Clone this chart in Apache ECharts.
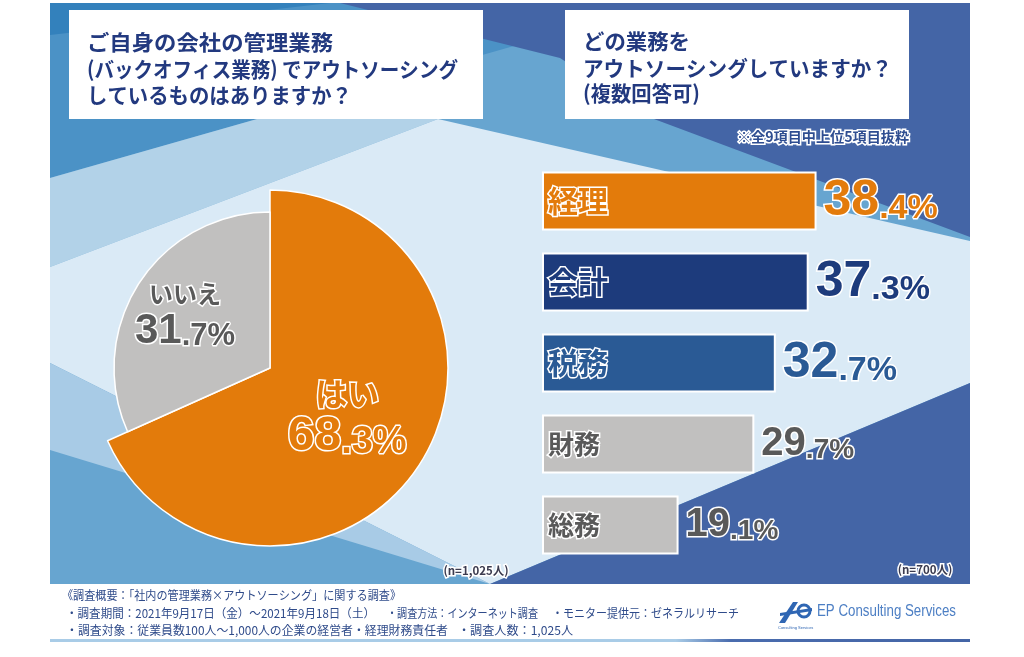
<!DOCTYPE html>
<html><head><meta charset="utf-8">
<script src="https://cdn.jsdelivr.net/npm/echarts@6/dist/echarts.min.js"></script>
<style>html,body{margin:0;padding:0;background:#fff;}#c{width:1024px;height:657px;}</style>
</head><body><div id="c"></div>
<script>
// ---------- data ----------
const pieNames = ['はい', 'いいえ'];
const pieValues = [68.3, 31.7];
const barCategories = ['経理', '会計', '税務', '財務', '総務'];
const barValues = [38.4, 37.3, 32.7, 29.7, 19.1];
const leftTitleLines = ['ご自身の会社の管理業務', '(バックオフィス業務) でアウトソーシング', 'しているものはありますか？'];
const rightTitleLines = ['どの業務を', 'アウトソーシングしていますか？', '(複数回答可)'];
const noteText = '※全9項目中上位5項目抜粋';
const nLeft = '(n=1,025人)';
const nRight = '(n=700人)';
const footerLine1 = ['《調査概要：「社内の管理業務×アウトソーシング」に関する調査》'];
const footerLine2 = ['・調査期間：2021年9月17日（金）～2021年9月18日（土）', '・調査方法：インターネット調査', '・モニター提供元：ゼネラルリサーチ'];
const footerLine3 = ['・調査対象：従業員数100人～1,000人の企業の経営者・経理財務責任者', '・調査人数：1,025人'];
const logoText = 'EP Consulting Services';

// ---------- styles ----------
const JP = '"Noto Sans CJK JP", sans-serif';
const NUM = '"Liberation Sans", Arial, sans-serif';
const ORANGE = '#E37B0B', NAVY = '#1D3B7C', BLUE = '#2A5A95', GRAY = '#C1C0BF', DARKTXT = '#595959';
const pieColors = [ORANGE, GRAY];
const pieTextColors = [ORANGE, DARKTXT];
const barColors = [ORANGE, NAVY, BLUE, GRAY, GRAY];
const barTextColors = [ORANGE, NAVY, BLUE, DARKTXT, DARKTXT];
const bigSizes = [50, 50, 50, 40, 40];
const smallSizes = [34, 34, 34, 28, 28];
const nameSizes = [30, 30, 30, 26, 26];
const TITLE = '#22397f';

function splitNum(v) { const s = v.toFixed(1).split('.'); return [s[0], '.' + s[1] + '%']; }

const mctx = document.createElement('canvas').getContext('2d');
function measure(text, font) { mctx.font = font; return mctx.measureText(text).width; }

const chart = echarts.init(document.getElementById('c'), null, { renderer: 'canvas' });

const nameRich = {}, valRich = {};
barCategories.forEach((c, i) => {
  nameRich['n' + i] = { fontFamily: JP, fontWeight: 'bold', fontSize: nameSizes[i], color: barTextColors[i], textBorderColor: '#fff', textBorderWidth: 3 };
  valRich['b' + i] = { fontFamily: NUM, fontWeight: 'bold', fontSize: bigSizes[i], lineHeight: bigSizes[i], color: barTextColors[i], textBorderColor: '#fff', textBorderWidth: 3, verticalAlign: 'bottom' };
  valRich['s' + i] = { fontFamily: NUM, fontWeight: 'bold', fontSize: smallSizes[i], lineHeight: smallSizes[i] + 4, color: barTextColors[i], textBorderColor: '#fff', textBorderWidth: 3, verticalAlign: 'bottom' };
});

const pieRich = {};
[[32, 38, 48, 38], [24, 32, 42, 31]].forEach((sz, i) => {
  pieRich['a' + i] = { fontFamily: JP, fontWeight: 'bold', fontSize: sz[0], lineHeight: sz[1], color: pieTextColors[i], textBorderColor: '#fff', textBorderWidth: 3, align: 'center' };
  pieRich['b' + i] = { fontFamily: NUM, fontWeight: 'bold', fontSize: sz[2], lineHeight: sz[2], color: pieTextColors[i], textBorderColor: '#fff', textBorderWidth: 3, verticalAlign: 'bottom' };
  pieRich['c' + i] = { fontFamily: NUM, fontWeight: 'bold', fontSize: sz[3], lineHeight: sz[3] + 4, color: pieTextColors[i], textBorderColor: '#fff', textBorderWidth: 3, verticalAlign: 'bottom' };
});
function pieLabel(p) {
  const i = p.dataIndex; const [a, b] = splitNum(p.value);
  return '{a' + i + '|' + p.name + '}\n{b' + i + '|' + a + '}{c' + i + '|' + b + '}';
}
function pieData(visibleIndex) {
  return pieNames.map((n, i) => ({
    name: n, value: pieValues[i],
    itemStyle: i === visibleIndex ? { color: pieColors[i], borderColor: '#fff', borderWidth: 1.5 } : { color: 'rgba(0,0,0,0)', borderWidth: 0 },
    label: { show: i === visibleIndex }
  }));
}

// ---------- background graphics ----------
const bg = [
  { type: 'rect', shape: { x: 50, y: 3, width: 920, height: 581 }, style: { fill: '#67A5D0' } },
  { type: 'polygon', shape: { points: [[50, 3], [665, 3], [50, 178]] }, style: { fill: '#4B92C6' } },
  { type: 'polygon', shape: { points: [[50, 3], [330, 3], [50, 35]] }, style: { fill: '#3381BC' } },
  { type: 'polygon', shape: { points: [[340, 3], [970, 3], [970, 237], [654, 119], [560, 58]] }, style: { fill: '#4465A6' } },
  { type: 'polygon', shape: { points: [[50, 178], [257, 119], [438, 119], [50, 267]] }, style: { fill: '#B2D2E8' } },
  { type: 'polygon', shape: { points: [[50, 267], [438, 119], [970, 241], [970, 383], [490, 584], [50, 363]] }, style: { fill: '#DAEAF6' } },
  { type: 'polygon', shape: { points: [[50, 363], [490, 584], [50, 450]] }, style: { fill: '#A8CBE6' } },
  { type: 'polygon', shape: { points: [[490, 584], [970, 383], [970, 584]] }, style: { fill: '#4465A6' } },
  { type: 'rect', shape: { x: 69, y: 10, width: 414, height: 109 }, style: { fill: '#fff' } },
  { type: 'rect', shape: { x: 565, y: 10, width: 344, height: 109 }, style: { fill: '#fff' } },
  { type: 'rect', shape: { x: 50, y: 639, width: 920, height: 3 }, style: { fill: new echarts.graphic.LinearGradient(0, 0, 1, 0, [{ offset: 0, color: '#A9CCE7' }, { offset: 0.68, color: '#A9CCE7' }, { offset: 0.74, color: '#4A6CAE' }, { offset: 1, color: '#4465A6' }]) } }
].map(e => Object.assign(e, { silent: true, z: 0 }));

// text helper; if endX given, text is horizontally scaled to end there
function txt(text, x, y, size, color, opts) {
  opts = opts || {};
  const font = (opts.weight || 'bold') + ' ' + size + 'px ' + (opts.family || JP);
  let sx = 1;
  if (opts.endX) { const w = measure(text, font); if (w > 0) sx = (opts.endX - x) / w; }
  return {
    type: 'text', x: x, y: y, scaleX: sx, silent: true, z: opts.z || 1,
    style: Object.assign({
      text: text, fill: color, font: font,
      textAlign: opts.align || 'left', textVerticalAlign: 'middle',
      align: opts.align || 'left', verticalAlign: 'middle'
    }, opts.stroke ? { stroke: opts.stroke, lineWidth: opts.lineWidth || 3 } : {})
  };
}

const leftYs = [42, 69, 95], leftEnds = [333, 458, 352];
const rightYs = [41, 68, 93], rightEnds = [690, 892, 700];
const texts = [];
leftTitleLines.forEach((t, i) => texts.push(txt(t, 87, leftYs[i], 21, TITLE, { endX: leftEnds[i] })));
rightTitleLines.forEach((t, i) => texts.push(txt(t, 583, rightYs[i], 21, TITLE, { endX: rightEnds[i] })));
texts.push(txt(noteText, 737, 137, 14, '#2E4D91', { stroke: '#fff', lineWidth: 3, endX: 909 }));
texts.push(txt(nLeft, 476, 571, 11.5, '#3b3b4f', { align: 'center', stroke: '#fff', lineWidth: 3, z: 5 }));
texts.push(txt(nRight, 925, 570, 11.5, '#3b3b4f', { align: 'center', stroke: '#fff', lineWidth: 3, z: 5 }));
const FOOT = '#2f4b8a';
const f1 = [[62, 401]], f2 = [[66, 375], [387, 538], [552, 739]], f3 = [[66, 448], [458, 573]];
footerLine1.forEach((t, i) => texts.push(txt(t, f1[i][0], 595, 12, FOOT, { weight: 'normal', endX: f1[i][1] })));
footerLine2.forEach((t, i) => texts.push(txt(t, f2[i][0], 613, 12, FOOT, { weight: 'normal', endX: f2[i][1] })));
footerLine3.forEach((t, i) => texts.push(txt(t, f3[i][0], 630, 12, FOOT, { weight: 'normal', endX: f3[i][1] })));
texts.push(txt(logoText, 817, 612, 16, '#4d7fc4', { weight: 'normal', family: NUM, endX: 956 }));
const logo = [
  { type: 'polygon', shape: { points: [[779, 623], [793, 602], [798, 602], [785, 623]] }, style: { fill: '#2f66b3' } },
  { type: 'circle', shape: { cx: 804, cy: 611, r: 6 }, style: { fill: 'none', stroke: '#2f66b3', lineWidth: 3 } },
  { type: 'polygon', shape: { points: [[780, 613], [812, 608], [812, 611], [780, 616]] }, style: { fill: '#2f66b3' } },
  txt('Consulting Services', 778, 628, 4, '#2f66b3', { weight: 'normal', family: NUM })
].map(e => Object.assign(e, { silent: true, z: 1 }));

const option = {
  animation: false,
  backgroundColor: '#fff',
  graphic: { elements: bg.concat(texts, logo) },
  grid: { left: 542, top: 160.5, width: 357.5, height: 405, containLabel: false },
  xAxis: { type: 'value', min: 0, max: 50, show: false },
  yAxis: { type: 'category', data: barCategories, inverse: true, show: false },
  series: [
    {
      type: 'pie', center: [270, 368], radius: [0, 178], startAngle: 90, clockwise: true,
      silent: true, z: 3, data: pieData(0), labelLine: { show: false },
      label: { position: 'inside', formatter: pieLabel, rich: pieRich }
    },
    {
      type: 'pie', center: [270, 368], radius: [0, 156], startAngle: 90, clockwise: true,
      silent: true, z: 3, data: pieData(1), labelLine: { show: false },
      label: { position: 'inside', formatter: pieLabel, rich: pieRich },
      labelLayout: { dx: -17, dy: -9 }
    },
    {
      type: 'bar', data: barValues.map((v, i) => ({ value: v, itemStyle: { color: barColors[i] } })),
      barWidth: 59, silent: true, z: 3,
      itemStyle: { borderColor: '#fff', borderWidth: 2 },
      label: { show: true, position: 'insideLeft', distance: 6, formatter: p => '{n' + p.dataIndex + '|' + p.name + '}', rich: nameRich }
    },
    {
      type: 'bar', data: barValues, barWidth: 59, barGap: '-100%', silent: true, z: 4,
      itemStyle: { color: 'rgba(0,0,0,0)' },
      label: { show: true, position: 'right', distance: 7, formatter: p => { const [a, b] = splitNum(p.value); return '{b' + p.dataIndex + '|' + a + '}{s' + p.dataIndex + '|' + b + '}'; }, rich: valRich }
    }
  ]
};
chart.setOption(option);
</script></body></html>
